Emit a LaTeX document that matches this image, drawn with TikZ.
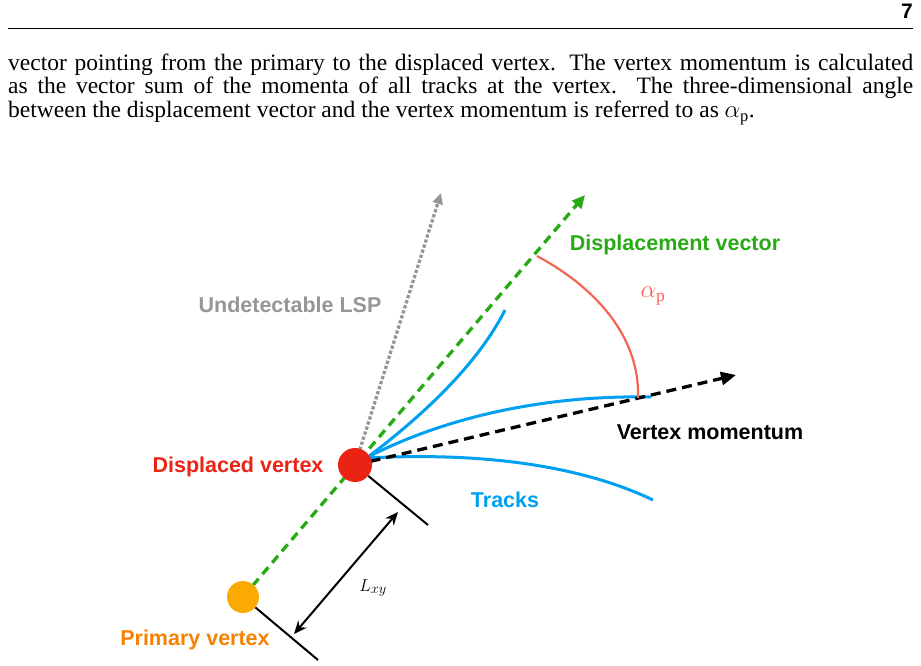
\documentclass[tikz,border=0pt]{standalone}
\usepackage{fontspec}
\setmainfont{Liberation Serif}
\setsansfont{Liberation Sans}
\usetikzlibrary{arrows.meta}
\definecolor{cgreen}{RGB}{40,170,20}
\definecolor{cblue}{RGB}{0,160,240}
\definecolor{cred}{RGB}{235,35,20}
\definecolor{corange}{RGB}{250,170,0}
\definecolor{corangetxt}{RGB}{245,130,0}
\definecolor{cgray}{RGB}{150,150,150}
\definecolor{csalmon}{RGB}{245,100,80}
\begin{document}
\begin{tikzpicture}[x=1pt,y=-1pt,
  lbl/.style={font=\sffamily\bfseries\fontsize{21.5}{24}\selectfont},
  body/.style={font=\fontsize{23.5}{26}\selectfont,anchor=base west,inner sep=0},
  track/.style={cblue,line width=3pt},
  tick/.style={black,line width=2pt}]
\useasboundingbox (0,0) rectangle (921,666);
\node[anchor=base east,inner sep=0,font=\sffamily\bfseries\fontsize{21}{24}\selectfont] (pg) at (913,19) {7};
\draw[line width=0.9pt] (8,28) -- (913,28);
\node[body] (l1) at (8,71) {\makebox[905pt][s]{vector pointing from the primary to the displaced vertex. The vertex momentum is calculated}};
\node[body] (l2) at (8,94) {\makebox[905pt][s]{as the vector sum of the momenta of all tracks at the vertex. The three-dimensional angle}};
\node[body] (l3) at (8,118) {between the displacement vector and the vertex momentum is referred to as $\alpha_{\mathrm{p}}$.};

\coordinate (pv) at (243,597);
\coordinate (dv) at (355,465);
\coordinate (gt) at (585,195);
\coordinate (lt) at (441,193);
\coordinate (mt) at (736,375);
\coordinate (t1) at (505,310);
\coordinate (t2) at (651,397);
\coordinate (t3) at (653,500);
\coordinate (a1) at (537,256);
\coordinate (a2) at (638,398);

\draw[cgray,line width=3.3pt,dotted,-{Triangle[length=11pt,width=10pt]}] (dv) -- (lt);
\draw[cgreen,line width=3.3pt,dash pattern=on 9pt off 6pt,-{Triangle[length=13pt,width=12pt]}] (pv) -- (gt);
\draw[track] (368,457) .. controls (430,410) and (480,360) .. (t1);
\draw[track] (368,457) .. controls (450,415) and (550,395) .. (t2);
\draw[track] (368,458) .. controls (480,452) and (580,465) .. (t3);
\draw[black,line width=3.3pt,dash pattern=on 10pt off 6pt,-{Triangle[length=15pt,width=13pt]}] (dv) -- (mt);
\draw[csalmon,line width=2.2pt] (a1) .. controls (600,290) and (640,340) .. (a2);

\node[circle,fill=cred,minimum size=34pt,inner sep=0] (dvn) at (dv) {};
\node[circle,fill=corange,minimum size=32pt,inner sep=0] (pvn) at (pv) {};

\draw[tick] (dvn) -- (428,525);
\draw[tick] (pvn) -- (318,660);
\coordinate (e1) at (398,512);
\coordinate (e2) at (294,634);
\draw[tick,{Stealth[length=13pt,width=11pt]}-{Stealth[length=13pt,width=11pt]}] (e1) -- (e2);

\node[lbl,cgreen] (dvec) at (675,245) {Displacement vector};
\node[lbl,cgray] (lsp) at (290,305) {Undetectable LSP};
\node[lbl,black] (vm) at (710,432) {Vertex momentum};
\node[lbl,cred] (dvl) at (238,467) {Displaced vertex};
\node[lbl,corangetxt] (pvl) at (195,640) {Primary vertex};
\node[lbl,cblue] (tr) at (505,500) {Tracks};
\node[csalmon,font=\fontsize{25}{28}\selectfont] (al) at (653,296) {$\alpha_{\mathrm{p}}$};
\node[font=\fontsize{19}{22}\selectfont] (lxy) at (373,588) {$L_{xy}$};
\end{tikzpicture}
\end{document}
